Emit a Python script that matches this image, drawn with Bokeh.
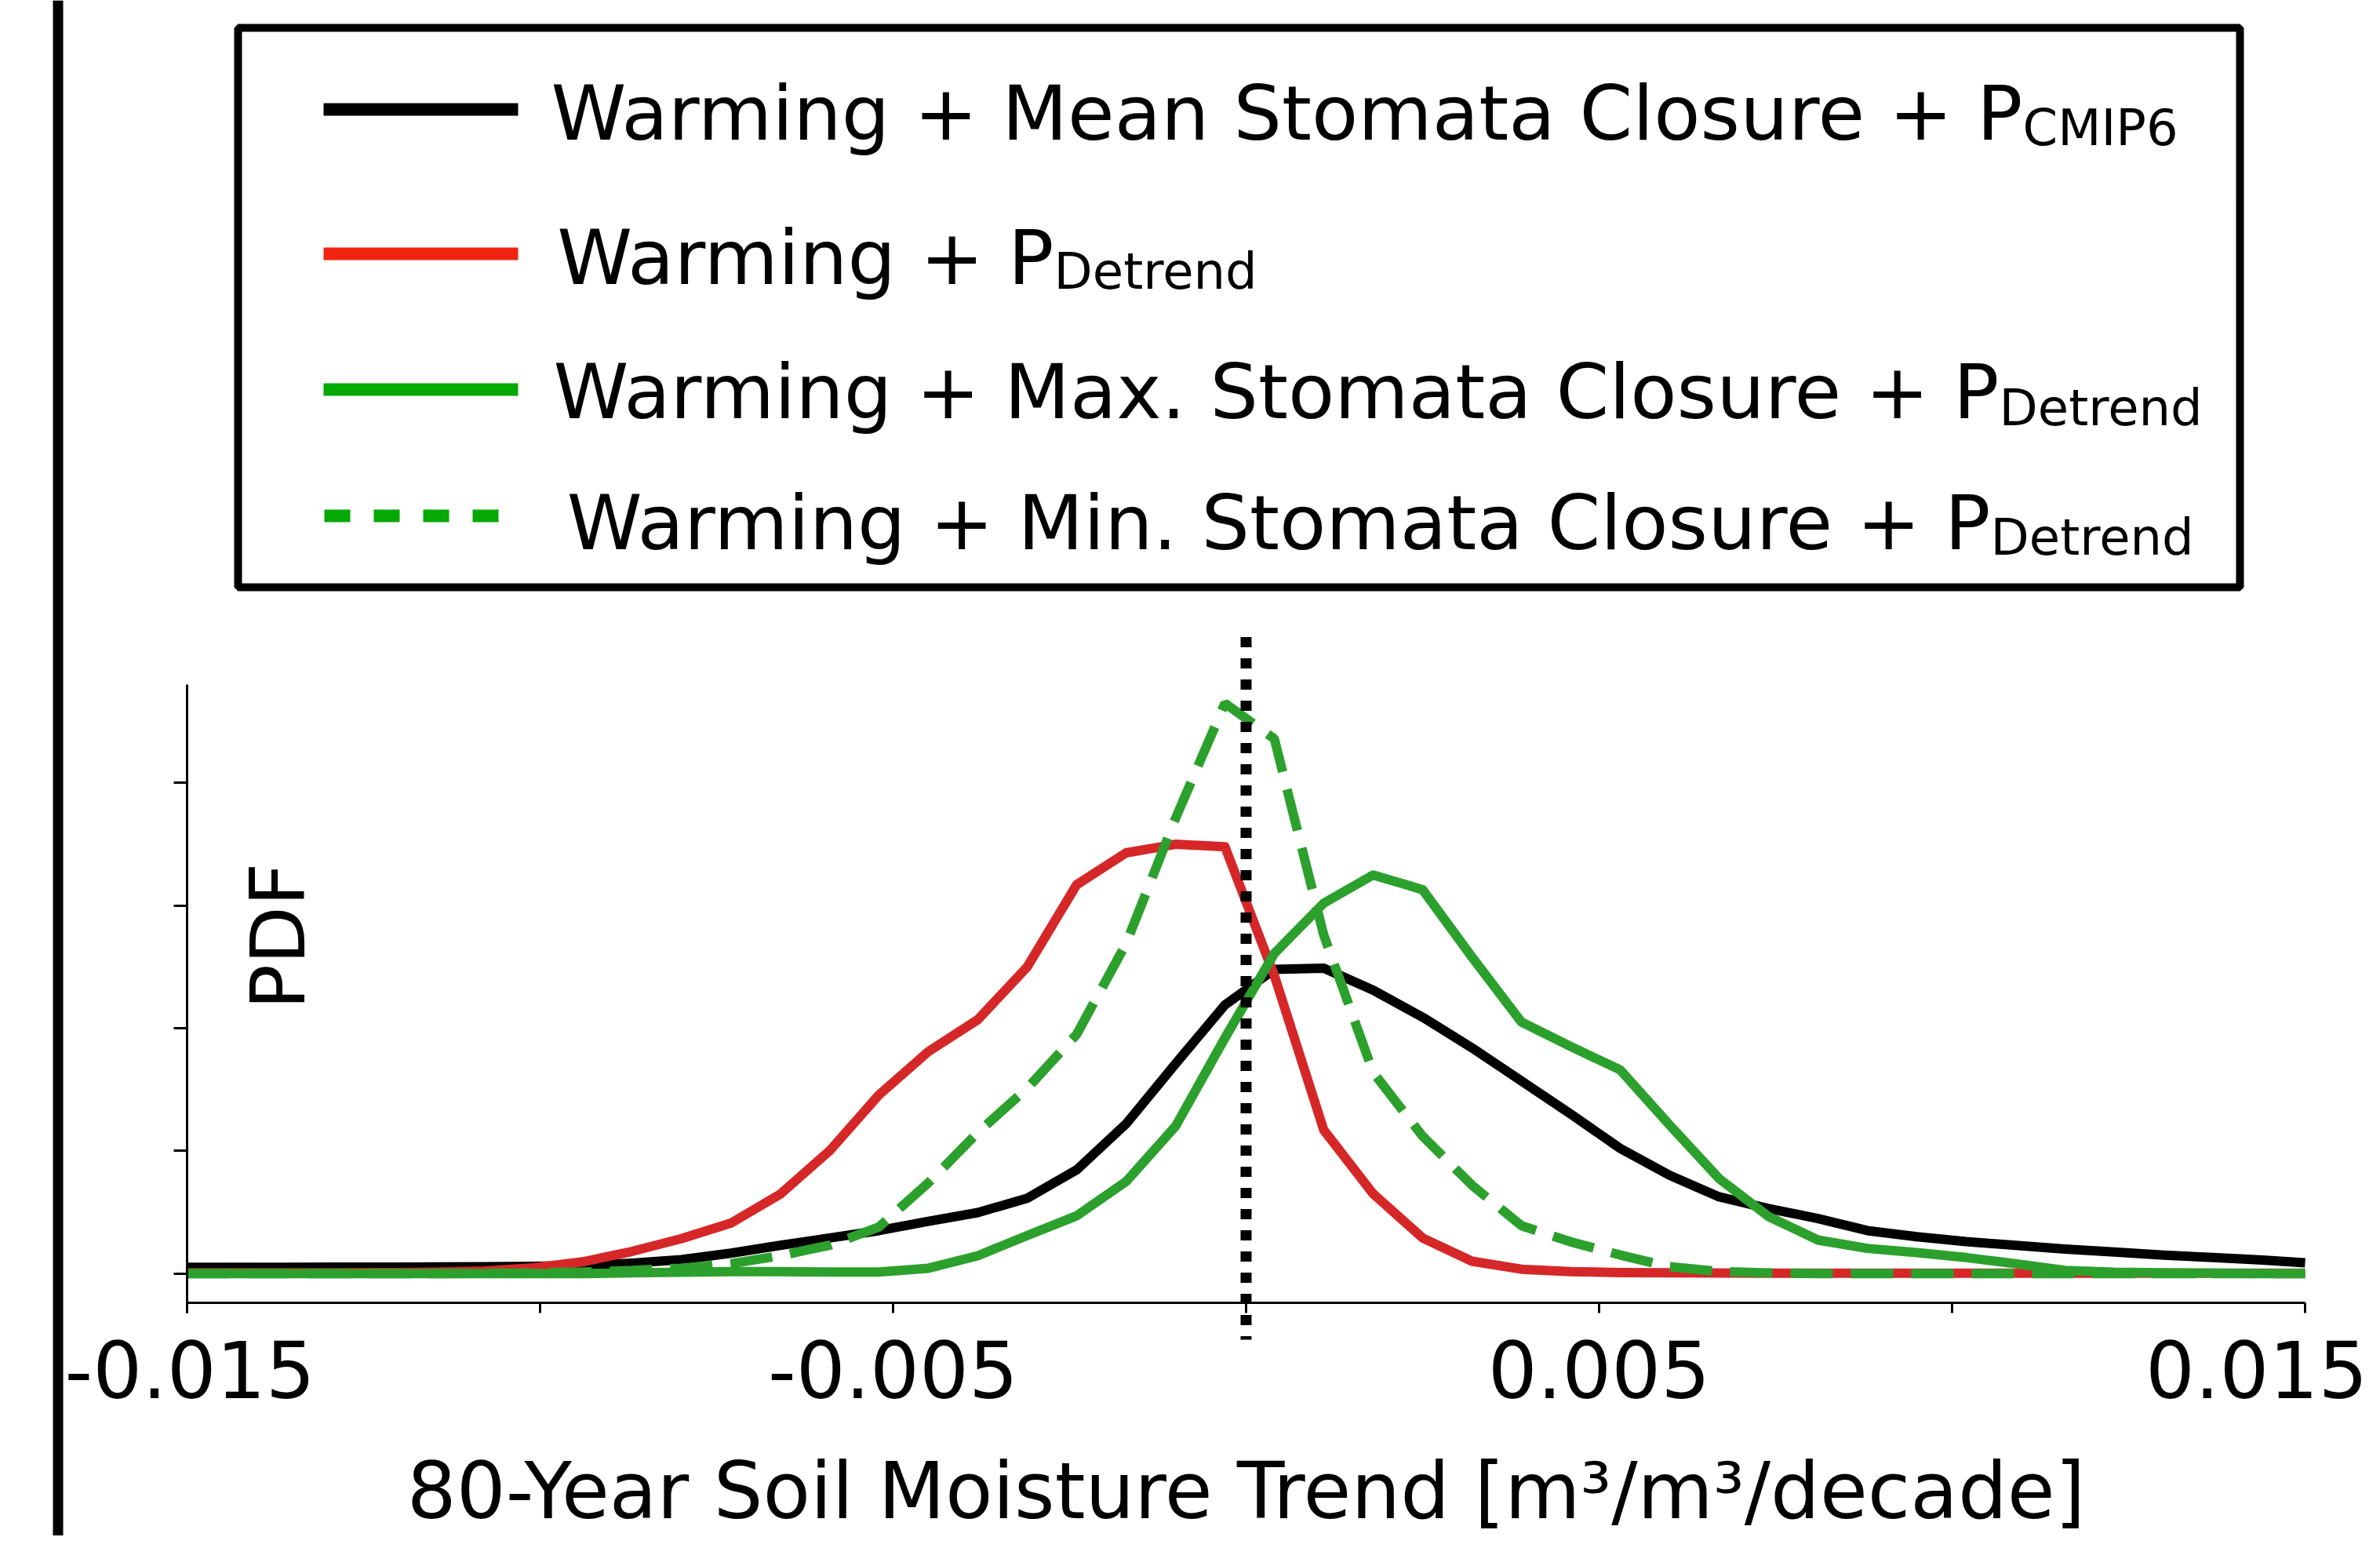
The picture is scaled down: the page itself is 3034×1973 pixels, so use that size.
from math import pi
from bokeh.plotting import figure
from bokeh.models import Range1d, FixedTicker, Span, Label, ColumnDataSource
from bokeh.layouts import row, column
from bokeh.core.properties import value
from bokeh.embed import file_html
from bokeh.resources import INLINE

FONT = "DejaVu Sans"

# ---------------- data ----------------
x_trend = [-0.0150, -0.0143, -0.0136, -0.0129, -0.0122, -0.0115, -0.0108, -0.0101,
           -0.0094, -0.0087, -0.0080, -0.0073, -0.0066, -0.0059, -0.0052, -0.0045,
           -0.0038, -0.0031, -0.0024, -0.0017, -0.0010, -0.0003, 0.0004, 0.0011,
           0.0018, 0.0025, 0.0032, 0.0039, 0.0046, 0.0053, 0.0060, 0.0067,
           0.0074, 0.0081, 0.0088, 0.0095, 0.0102, 0.0109, 0.0116, 0.0123,
           0.0130, 0.0137, 0.0144, 0.0150]

pdf_mean_closure_cmip6 = [0.050, 0.050, 0.051, 0.052, 0.052, 0.053, 0.055, 0.058,
                          0.065, 0.085, 0.113, 0.166, 0.230, 0.290, 0.350, 0.426,
                          0.497, 0.614, 0.845, 1.220, 1.710, 2.190, 2.480, 2.490,
                          2.310, 2.090, 1.840, 1.570, 1.300, 1.020, 0.800, 0.625,
                          0.530, 0.448, 0.350, 0.300, 0.260, 0.230, 0.200, 0.175,
                          0.150, 0.130, 0.110, 0.088]

pdf_detrend = [0.005, 0.005, 0.005, 0.006, 0.007, 0.010, 0.020, 0.046,
               0.095, 0.180, 0.284, 0.410, 0.646, 1.000, 1.457, 1.810,
               2.070, 2.500, 3.170, 3.430, 3.500, 3.480, 2.430, 1.170,
               0.650, 0.290, 0.100, 0.035, 0.015, 0.008, 0.005, 0.004,
               0.003, 0.003, 0.003, 0.003, 0.003, 0.003, 0.003, 0.003,
               0.003, 0.003, 0.003, 0.003]

pdf_max_closure = [0.000, 0.000, 0.000, 0.000, 0.000, 0.000, 0.000, 0.000,
                   0.000, 0.005, 0.010, 0.015, 0.015, 0.012, 0.012, 0.043,
                   0.145, 0.310, 0.470, 0.750, 1.200, 1.920, 2.610, 3.020,
                   3.250, 3.130, 2.580, 2.050, 1.850, 1.660, 1.210, 0.774,
                   0.465, 0.273, 0.205, 0.170, 0.130, 0.080, 0.025, 0.010,
                   0.005, 0.003, 0.000, 0.000]

pdf_min_closure = [0.000, 0.000, 0.000, 0.000, 0.000, 0.000, 0.002, 0.005,
                   0.012, 0.025, 0.043, 0.080, 0.145, 0.230, 0.380, 0.740,
                   1.150, 1.510, 1.950, 2.690, 3.710, 4.650, 4.360, 2.760,
                   1.640, 1.120, 0.720, 0.390, 0.258, 0.151, 0.055, 0.017,
                   0.005, 0.000, 0.000, 0.000, 0.000, 0.000, 0.000, 0.000,
                   0.000, 0.000, 0.000, 0.000]

x_ticks = [-0.015, -0.01, -0.005, 0.0, 0.005, 0.01, 0.015]
x_tick_labels = ["-0.015", "", "-0.005", "", "0.005", "", "0.015"]
x_axis_limits = (-0.015, 0.015)
y_ticks = [0, 1, 2, 3, 4]
zero_line_x = 0.0

x_label = "80-Year Soil Moisture Trend [m³/m³/decade]"
y_label = "PDF"

legend_main = ["Warming + Mean Stomata Closure + P",
               "Warming + P",
               "Warming + Max. Stomata Closure + P",
               "Warming + Min. Stomata Closure + P"]
legend_sub = ["CMIP6", "Detrend", "Detrend", "Detrend"]

# ---------------- styles / layout ----------------
c_black = "#000000"
c_red = "#d62728"
c_green = "#2ca02c"
leg_red = "#ef2310"
leg_green = "#04a904"

LEFT_W = 82
TOTAL_W = 3018
TOP_H = 790
TOTAL_H = 1957
FIG_W = TOTAL_W - LEFT_W
PX_PER_UNIT_X = 90000.0
ZERO_PAGE_X = 1588.0

x_lo = (LEFT_W - ZERO_PAGE_X) / PX_PER_UNIT_X
x_hi = (TOTAL_W - ZERO_PAGE_X) / PX_PER_UNIT_X

# ---------------- main plot ----------------
p = figure(width=FIG_W, height=TOTAL_H - TOP_H,
           x_range=Range1d(x_lo, x_hi), y_range=Range1d(-2.139, 5.231),
           min_border_left=0, min_border_right=0, min_border_top=15,
           min_border_bottom=0, toolbar_location=None, output_backend="svg",
           outline_line_color=None, background_fill_color="white",
           border_fill_color="white")
p.xgrid.visible = False
p.ygrid.visible = False

xa = p.xaxis[0]
xa.fixed_location = -0.24
xa.bounds = x_axis_limits
xa.ticker = FixedTicker(ticks=x_ticks)
xa.major_label_overrides = {t: l for t, l in zip(x_ticks, x_tick_labels)}
xa.axis_label = x_label
xa.axis_label_text_font = FONT
xa.axis_label_text_font_style = "normal"
xa.axis_label_text_font_size = "99px"
xa.axis_label_text_color = "black"
xa.axis_label_standoff = 58
xa.major_label_text_font = FONT
xa.major_label_text_font_size = "99px"
xa.major_label_text_color = "black"
xa.major_label_standoff = 35
xa.major_tick_out = 13
xa.major_tick_in = 0
xa.minor_tick_out = 0
xa.minor_tick_in = 0
xa.axis_line_width = 3
xa.major_tick_line_width = 3
xa.axis_line_color = "black"
xa.major_tick_line_color = "black"

ya = p.yaxis[0]
ya.fixed_location = x_axis_limits[0]
ya.ticker = FixedTicker(ticks=y_ticks)
ya.major_label_overrides = {t: "" for t in y_ticks}
ya.major_label_text_color = None
ya.bounds = (-0.32, 4.8)
ya.major_tick_out = 17
ya.major_tick_in = 0
ya.minor_tick_out = 0
ya.minor_tick_in = 0
ya.axis_line_width = 3
ya.major_tick_line_width = 3
ya.axis_line_color = "black"
ya.major_tick_line_color = "black"

src = ColumnDataSource(dict(x=x_trend, mean=pdf_mean_closure_cmip6, detrend=pdf_detrend,
                            maxc=pdf_max_closure, minc=pdf_min_closure))
p.line("x", "mean", source=src, line_color=c_black, line_width=12, line_join="round")
p.line("x", "detrend", source=src, line_color=c_red, line_width=12, line_join="round")
p.line("x", "maxc", source=src, line_color=c_green, line_width=12, line_join="round")
p.line("x", "minc", source=src, line_color=c_green, line_width=12, line_dash="54 23")

# vertical dotted reference line at zero trend
p.segment(x0=[zero_line_x], x1=[zero_line_x], y0=[5.19], y1=[-0.54],
          line_color="black", line_width=14, line_dash="13 14")

p.add_layout(Label(x=-0.01371, y=2.75, text=y_label, angle=pi / 2,
                   text_align="center", text_baseline="alphabetic",
                   text_font=FONT, text_font_size="96px", text_color="black"))

# ---------------- legend panel (page-pixel coordinates) ----------------
lg = figure(width=FIG_W, height=TOP_H,
            x_range=Range1d(LEFT_W, TOTAL_W), y_range=Range1d(TOP_H, 0),
            x_axis_type=None, y_axis_type=None, min_border=0,
            toolbar_location=None, output_backend="svg", outline_line_color=None)
lg.quad(left=[303], right=[2855], top=[35], bottom=[748], fill_color=None,
        line_color="black", line_width=10)

row_y = [139, 323, 496, 657]
sample_colors = [c_black, leg_red, leg_green, leg_green]
for i in range(3):
    lg.segment(x0=[412], x1=[660], y0=[row_y[i]], y1=[row_y[i]],
               line_color=sample_colors[i], line_width=16)
lg.segment(x0=[413], x1=[640], y0=[row_y[3]], y1=[row_y[3]],
           line_color=sample_colors[3], line_width=16, line_dash="33 30")

junction_x = [2578, 1343, 2548, 2537]
text_y = [144, 328, 499, 666]
sub_text_y = [162, 345, 519, 684]
lg.text(x=junction_x, y=text_y, text=legend_main, text_align="right",
        text_baseline="alphabetic", text_font=value(FONT), text_font_size="97px",
        text_color="black")
lg.text(x=junction_x, y=sub_text_y, text=legend_sub, text_align="left",
        text_baseline="alphabetic", text_font=value(FONT), text_font_size="64px",
        text_color="black")

# ---------------- left panel border ----------------
ls = figure(width=LEFT_W, height=TOTAL_H, x_range=Range1d(0, LEFT_W), y_range=Range1d(0, 1),
            x_axis_type=None, y_axis_type=None, min_border=0, toolbar_location=None,
            output_backend="svg", outline_line_color=None)
ls.add_layout(Span(location=73.5, dimension="height", line_color="black", line_width=13))

layout = row(ls, column(lg, p))

open("out.html", "w").write(file_html(layout, INLINE))
